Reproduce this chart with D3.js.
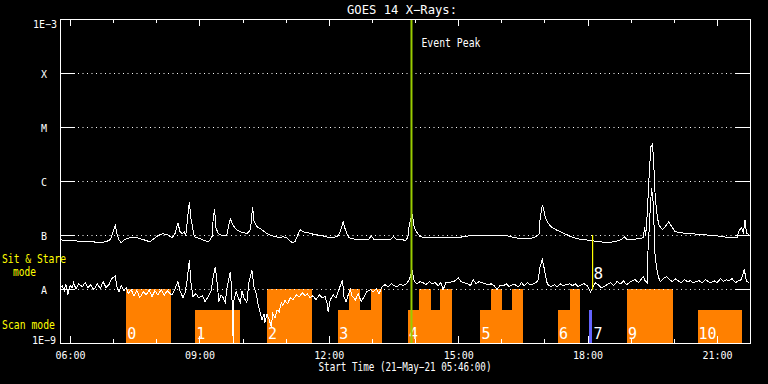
<!DOCTYPE html>
<html><head><meta charset="utf-8">
<script src="https://cdn.jsdelivr.net/npm/d3@7"></script>
<style>
html,body{margin:0;padding:0;background:#000;}
svg{display:block;}
text{font-family:"DejaVu Sans Mono",monospace;fill:#fff;}
</style></head><body>
<svg id="chart" width="768" height="384"></svg>
<script>
// ---------------- data ----------------
const title = "GOES 14 X\u2212Rays:";
const xTitle = "Start Time (21\u2212May\u221221 05:46:00)";
const startTime = new Date(2021, 4, 21, 5, 46);
const spanMinutes = 960;
const fluxTicks = [1e-9, 1e-8, 1e-7, 1e-6, 1e-5, 1e-4, 1e-3];
const fluxTickLabels = ["1E\u22129", "A", "B", "C", "M", "X", "1E\u22123"];

// [minutes after start, flux W/m^2] — 1-8 Å channel
const longChannel = [[0,8.2e-8],[11,7.8e-8],[22,7.8e-8],[33,7.5e-8],[45,7.5e-8],[56,7.2e-8],[64,7.5e-8],[70,8.2e-8],[74,1.15e-7],[77,1.49e-7],[79,1.06e-7],[82,8.2e-8],[85,7.2e-8],[90,8.2e-8],[97,8.9e-8],[107,8.9e-8],[116,8.2e-8],[125,7.5e-8],[129,8.2e-8],[136,9.7e-8],[143,1.06e-7],[150,1.01e-7],[156,8.9e-8],[160,1.06e-7],[164,1.69e-7],[167,1.15e-7],[170,1.06e-7],[173,1.15e-7],[175,9.7e-8],[178,2.38e-7],[180,4.1e-7],[182,2.1e-7],[185,1.25e-7],[187,9.3e-8],[191,8.9e-8],[198,8.2e-8],[202,7.8e-8],[206,7.5e-8],[209,8.2e-8],[212,9.7e-8],[213,1.92e-7],[215,3.07e-7],[217,1.36e-7],[220,1.06e-7],[226,9.7e-8],[232,9.7e-8],[235,1.55e-7],[237,2.0e-7],[239,1.69e-7],[242,1.43e-7],[246,1.25e-7],[251,1.15e-7],[260,1.06e-7],[265,1.25e-7],[268,3.34e-7],[270,1.76e-7],[274,1.43e-7],[281,1.25e-7],[288,1.06e-7],[295,9.7e-8],[305,8.9e-8],[311,9.3e-8],[315,8.9e-8],[320,7.8e-8],[323,7.2e-8],[327,7.5e-8],[331,1.01e-7],[334,1.25e-7],[338,1.15e-7],[345,1.10e-7],[349,1.06e-7],[356,1.01e-7],[365,9.7e-8],[376,8.9e-8],[381,8.9e-8],[387,9.7e-8],[390,1.15e-7],[394,1.76e-7],[397,1.25e-7],[400,1.01e-7],[402,8.9e-8],[412,8.2e-8],[420,8.2e-8],[429,8.2e-8],[433,9.7e-8],[437,8.2e-8],[449,8.2e-8],[459,8.2e-8],[464,9.3e-8],[468,8.2e-8],[477,8.2e-8],[480,7.8e-8],[484,8.9e-8],[486,1.55e-7],[490,2.48e-7],[493,1.36e-7],[497,1.10e-7],[501,9.3e-8],[511,8.9e-8],[529,8.9e-8],[543,8.9e-8],[553,8.9e-8],[561,9.3e-8],[571,9.7e-8],[580,9.7e-8],[599,9.7e-8],[612,9.7e-8],[622,9.7e-8],[632,8.9e-8],[646,8.5e-8],[660,8.9e-8],[667,1.06e-7],[668,2.1e-7],[671,3.5e-7],[672,3.34e-7],[675,2.2e-7],[678,1.76e-7],[683,1.43e-7],[690,1.25e-7],[702,1.06e-7],[711,9.3e-8],[720,8.5e-8],[729,8.2e-8],[741,7.8e-8],[752,7.5e-8],[761,7.2e-8],[771,7.5e-8],[781,8.2e-8],[785,9.3e-8],[789,8.2e-8],[795,8.2e-8],[803,8.5e-8],[812,8.9e-8],[813,1.43e-7],[815,1.01e-7],[817,2.38e-7],[819,8.5e-7],[822,4.3e-6],[824,4.7e-6],[826,2.7e-6],[827,8.5e-7],[830,2.7e-7],[833,1.55e-7],[838,1.25e-7],[842,1.43e-7],[847,1.76e-7],[851,1.43e-7],[856,1.15e-7],[863,1.10e-7],[877,1.06e-7],[895,1.01e-7],[913,9.7e-8],[933,8.9e-8],[942,8.9e-8],[944,1.15e-7],[948,1.36e-7],[951,1.10e-7],[953,1.92e-7],[955,1.10e-7],[958,1.01e-7]];

// [minutes after start, flux W/m^2] — 0.5-4 Å channel
const shortChannel = [[0,1.01e-8],[3,1.15e-8],[6,9.3e-9],[8,1.25e-8],[11,7.8e-9],[14,1.15e-8],[17,1.06e-8],[19,1.31e-8],[22,1.01e-8],[26,1.25e-8],[31,1.10e-8],[35,1.31e-8],[39,1.06e-8],[43,1.20e-8],[47,9.7e-9],[52,1.25e-8],[56,1.01e-8],[60,1.37e-8],[64,1.06e-8],[68,1.20e-8],[72,1.55e-8],[77,1.76e-8],[79,1.10e-8],[82,8.9e-9],[85,1.15e-8],[89,9.3e-9],[92,1.06e-8],[95,8.2e-9],[99,9.7e-9],[103,7.5e-9],[107,9.3e-9],[111,6.9e-9],[116,8.9e-9],[120,7.8e-9],[124,9.7e-9],[128,7.2e-9],[132,9.3e-9],[136,7.8e-9],[141,9.7e-9],[145,7.5e-9],[149,9.3e-9],[153,8.2e-9],[156,7.8e-9],[160,1.01e-8],[164,1.37e-8],[167,9.3e-9],[171,6.9e-9],[174,8.5e-9],[177,1.49e-8],[180,3.5e-8],[182,1.37e-8],[185,7.2e-9],[189,8.2e-9],[193,6.9e-9],[198,7.5e-9],[202,5.8e-9],[206,7.2e-9],[210,8.9e-9],[213,1.62e-8],[216,2.6e-8],[219,1.15e-8],[221,5.8e-9],[224,7.8e-9],[227,6.9e-9],[230,5.6e-9],[232,9.7e-9],[237,2.1e-8],[239,8.9e-9],[241,1.0e-9],[242,6.3e-9],[245,8.9e-9],[248,6.9e-9],[251,5.6e-9],[253,9.3e-9],[256,6.9e-9],[260,5.6e-9],[263,1.37e-8],[267,2.2e-8],[270,1.06e-8],[273,8.2e-9],[276,4.9e-9],[278,3.8e-9],[281,2.7e-9],[284,3.5e-9],[285,2.4e-9],[288,3.4e-9],[291,2.7e-9],[294,2.0e-9],[296,3.5e-9],[299,2.9e-9],[302,4.1e-9],[305,3.8e-9],[308,5.6e-9],[310,4.9e-9],[313,6.1e-9],[317,5.3e-9],[320,6.9e-9],[324,6.3e-9],[329,7.8e-9],[333,7.2e-9],[337,8.5e-9],[341,7.5e-9],[344,8.2e-9],[348,6.9e-9],[352,7.5e-9],[356,6.3e-9],[361,7.8e-9],[365,6.9e-9],[369,7.2e-9],[372,5.1e-9],[373,3.8e-9],[376,6.3e-9],[380,7.8e-9],[384,6.9e-9],[388,9.7e-9],[393,1.49e-8],[395,7.2e-9],[398,5.8e-9],[401,7.8e-9],[404,9.7e-9],[406,7.5e-9],[411,6.3e-9],[415,8.2e-9],[419,5.8e-9],[423,7.2e-9],[427,8.9e-9],[432,9.7e-9],[436,8.9e-9],[440,1.01e-8],[444,8.2e-9],[448,1.10e-8],[452,1.20e-8],[457,1.10e-8],[461,1.25e-8],[465,1.15e-8],[469,1.10e-8],[473,1.25e-8],[477,1.15e-8],[482,1.25e-8],[486,1.49e-8],[490,2.2e-8],[493,1.37e-8],[497,1.25e-8],[501,1.37e-8],[505,1.31e-8],[509,1.20e-8],[514,1.37e-8],[518,1.25e-8],[522,1.31e-8],[526,1.15e-8],[530,1.31e-8],[533,9.7e-9],[537,1.31e-8],[541,1.31e-8],[546,1.37e-8],[550,1.42e-8],[554,1.62e-8],[558,1.37e-8],[562,1.31e-8],[567,1.25e-8],[571,1.15e-8],[575,1.49e-8],[579,1.25e-8],[583,1.37e-8],[587,1.31e-8],[592,1.25e-8],[596,1.20e-8],[600,1.25e-8],[604,1.15e-8],[608,9.7e-9],[612,1.15e-8],[617,1.15e-8],[621,1.25e-8],[625,1.10e-8],[629,1.20e-8],[633,1.20e-8],[638,1.10e-8],[642,1.31e-8],[646,1.15e-8],[650,1.31e-8],[654,1.20e-8],[660,1.25e-8],[665,1.42e-8],[668,2.6e-8],[671,3.5e-8],[674,2.3e-8],[677,1.37e-8],[679,1.20e-8],[683,1.10e-8],[688,1.20e-8],[692,1.10e-8],[696,1.25e-8],[700,1.15e-8],[704,1.20e-8],[709,1.25e-8],[713,1.15e-8],[717,1.25e-8],[721,1.10e-8],[725,1.20e-8],[729,1.25e-8],[734,1.15e-8],[738,8.9e-9],[741,1.06e-8],[745,1.31e-8],[749,1.20e-8],[753,1.06e-8],[757,1.10e-8],[761,1.20e-8],[766,1.31e-8],[770,1.15e-8],[775,1.37e-8],[780,1.25e-8],[784,1.42e-8],[788,1.20e-8],[792,1.31e-8],[796,1.42e-8],[800,1.49e-8],[805,1.31e-8],[809,1.55e-8],[812,1.68e-8],[814,1.42e-8],[817,1.31e-8],[818,4.9e-8],[821,2.7e-7],[823,7.4e-7],[825,4.5e-7],[827,1.0e-7],[828,3.8e-8],[831,2.1e-8],[833,1.62e-8],[835,1.37e-8],[839,1.55e-8],[844,1.68e-8],[848,1.49e-8],[852,1.37e-8],[856,1.55e-8],[860,1.42e-8],[864,1.31e-8],[869,1.49e-8],[873,1.37e-8],[877,1.42e-8],[881,1.31e-8],[885,1.37e-8],[889,1.42e-8],[894,1.31e-8],[898,1.49e-8],[902,1.37e-8],[906,1.31e-8],[910,1.42e-8],[914,1.31e-8],[919,1.55e-8],[923,1.37e-8],[927,1.49e-8],[931,1.42e-8],[935,1.55e-8],[940,1.31e-8],[944,1.42e-8],[948,1.49e-8],[952,2.3e-8],[955,1.42e-8],[958,1.31e-8]];

const eventPeakMinute = 489;
const eventPeakLabel = "Event Peak";

// observing mode segments: [start minute, end minute, mode, observation id]
const modeSegments = [
  [92,155,"stare","0"],
  [188,251,"scan","1"],
  [288,351,"stare","2"],
  [387,402,"scan","3"],[402,418,"stare","3"],[418,432,"scan","3"],[432,448,"stare","3"],
  [484,500,"scan","4"],[500,516,"stare","4"],[516,529,"scan","4"],[529,546,"stare","4"],
  [585,599,"scan","5"],[599,615,"stare","5"],[615,629,"scan","5"],[629,644,"stare","5"],
  [693,709,"scan","6"],[709,724,"stare","6"],
  [736,740,"scan","7"],
  [789,853,"stare","9"],
  [887,949,"scan","10"]
];
const modeLevel = {scan: 4.1e-9, stare: 1e-8};
const modeNames = ["Scan mode", "Sit & Stare", "mode"];
// observation labels: [id, minute]
const obsLabels = [["0",92],["1",188],["2",288],["3",387],["4",484],["5",585],["6",693],["7",741],["9",789],["10",887]];
// observation 8: a single marker line [id, minute, top flux, bottom flux]
const markerObs = ["8", 741, 1.0e-7, 9.7e-9];

// ---------------- chart ----------------
const W = 768, H = 384;
const L = 60, R = 750, T = 19, B = 343;
const svg = d3.select("#chart");
svg.append("rect").attr("width", W).attr("height", H).attr("fill", "#000");

const toDate = m => new Date(startTime.getTime() + m * 60000);
const x = d3.scaleTime().domain([startTime, toDate(spanMinutes)]).range([L, R]);
const y = d3.scaleLog().domain([1e-9, 1e-3]).range([B, T]).clamp(true);

const colors = {fg: "#ffffff", orange: "#ff8000", blue: "#6464ff", green: "#99cc00", yellow: "#ffff00"};

// mode blocks
svg.append("g").selectAll("rect").data(modeSegments).join("rect")
  .attr("x", d => x(toDate(d[0])))
  .attr("width", d => x(toDate(d[1])) - x(toDate(d[0])))
  .attr("y", d => y(modeLevel[d[2]]))
  .attr("height", d => B - y(modeLevel[d[2]]))
  .attr("fill", d => d[3] === "7" ? colors.blue : colors.orange)
  .attr("shape-rendering", "crispEdges");

// gridlines (dotted)
svg.append("g").selectAll("line").data(fluxTicks.slice(1, -1)).join("line")
  .attr("x1", L).attr("x2", R)
  .attr("y1", d => Math.round(y(d)) + 0.5).attr("y2", d => Math.round(y(d)) + 0.5)
  .attr("stroke", colors.fg).attr("stroke-width", 1)
  .attr("stroke-dasharray", "1,3.5");

// curves
const line = d3.line().x(d => x(toDate(d[0]))).y(d => y(d[1]));
[longChannel, shortChannel].forEach(series => {
  svg.append("path").datum(series).attr("d", line)
    .attr("fill", "none").attr("stroke", colors.fg).attr("stroke-width", 1)
    .attr("stroke-linejoin", "miter").attr("shape-rendering", "crispEdges");
});

// observation labels
svg.append("g").selectAll("text").data(obsLabels).join("text")
  .attr("x", d => x(toDate(d[1])) + 1)
  .attr("y", B - 4)
  .attr("font-size", 15)
  .text(d => d[0]);

// marker observation 8
svg.append("line")
  .attr("x1", x(toDate(markerObs[1]))).attr("x2", x(toDate(markerObs[1])))
  .attr("y1", y(markerObs[2])).attr("y2", y(markerObs[3]))
  .attr("stroke", colors.yellow).attr("stroke-width", 1.2);
svg.append("text")
  .attr("x", x(toDate(markerObs[1])) + 1).attr("y", y(markerObs[3]) - 11)
  .attr("font-size", 16).text(markerObs[0]);

// event peak
svg.append("line")
  .attr("x1", x(toDate(eventPeakMinute))).attr("x2", x(toDate(eventPeakMinute)))
  .attr("y1", T).attr("y2", B)
  .attr("stroke", colors.green).attr("stroke-width", 2);
svg.append("text")
  .attr("x", x(toDate(eventPeakMinute)) + 10).attr("y", 47)
  .attr("font-size", 12).attr("textLength", 59).attr("lengthAdjust", "spacingAndGlyphs")
  .text(eventPeakLabel);

// axes
const fmt = d3.timeFormat("%H:%M");
const bottomAxis = d3.axisBottom(x).ticks(d3.timeHour.every(3)).tickFormat(fmt).tickSize(-7).tickPadding(9);
const bottomMinor = d3.axisBottom(x).ticks(d3.timeHour.every(1)).tickFormat("").tickSize(-4);
const topAxis = d3.axisTop(x).ticks(d3.timeHour.every(3)).tickFormat("").tickSize(-7);
const topMinor = d3.axisTop(x).ticks(d3.timeHour.every(1)).tickFormat("").tickSize(-4);

function styleAxis(g) {
  g.select(".domain").remove();
  g.selectAll("line").attr("stroke", colors.fg).attr("shape-rendering", "crispEdges");
  g.selectAll("text").attr("fill", colors.fg).attr("font-family", "DejaVu Sans Mono").attr("font-size", 10);
}
svg.append("g").attr("transform", `translate(0,${B})`).call(bottomMinor).call(styleAxis);
svg.append("g").attr("transform", `translate(0,${B})`).call(bottomAxis).call(styleAxis);
svg.append("g").attr("transform", `translate(0,${T})`).call(topMinor).call(styleAxis);
svg.append("g").attr("transform", `translate(0,${T})`).call(topAxis).call(styleAxis);

const leftAxis = d3.axisLeft(y).tickValues(fluxTicks).tickSize(-15)
  .tickFormat((d, i) => fluxTickLabels[i]);
const gl = svg.append("g").attr("transform", `translate(${L},0)`).call(leftAxis).call(styleAxis);
gl.selectAll(".tick text").each(function(d, i) {
  const t = d3.select(this);
  if (i === 0) { t.attr("x", -4).attr("dy", null).attr("y", 0).attr("text-anchor", "end"); }
  else if (i === fluxTicks.length - 1) { t.attr("x", -3).attr("dy", null).attr("y", 8).attr("text-anchor", "end"); }
  else { t.attr("x", -16).attr("dy", null).attr("y", 4).attr("text-anchor", "middle"); }
});
const rightAxis = d3.axisRight(y).tickValues(fluxTicks).tickSize(-14).tickFormat("");
svg.append("g").attr("transform", `translate(${R},0)`).call(rightAxis).call(styleAxis);

// frame
svg.append("rect").attr("x", L + 0.5).attr("y", T + 0.5).attr("width", R - L).attr("height", B - T)
  .attr("fill", "none").attr("stroke", colors.fg).attr("stroke-width", 1);

// titles
svg.append("text").attr("x", 402).attr("y", 13.5).attr("text-anchor", "middle")
  .attr("font-size", 12).attr("textLength", 110).attr("lengthAdjust", "spacingAndGlyphs").text(title);
svg.append("text").attr("x", 405).attr("y", 371).attr("text-anchor", "middle")
  .attr("font-size", 11.5).attr("textLength", 173).attr("lengthAdjust", "spacingAndGlyphs").text(xTitle);

// mode labels
svg.append("text").attr("x", 2).attr("y", 263).attr("font-size", 12).attr("fill", colors.yellow)
  .style("fill", colors.yellow).attr("textLength", 64).attr("lengthAdjust", "spacingAndGlyphs").text(modeNames[1]);
svg.append("text").attr("x", 13).attr("y", 275.5).attr("font-size", 12)
  .style("fill", colors.yellow).attr("textLength", 23).attr("lengthAdjust", "spacingAndGlyphs").text(modeNames[2]);
svg.append("text").attr("x", 2).attr("y", 328.5).attr("font-size", 12)
  .style("fill", colors.yellow).attr("textLength", 53).attr("lengthAdjust", "spacingAndGlyphs").text(modeNames[0]);
</script>
</body></html>
